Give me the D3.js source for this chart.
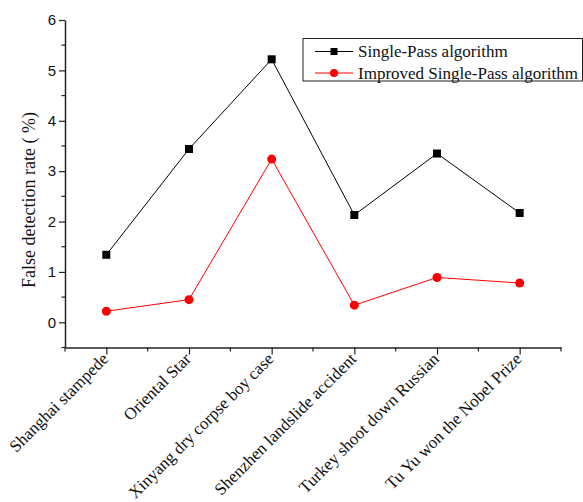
<!DOCTYPE html>
<html><head><meta charset="utf-8">
<script src="https://cdn.jsdelivr.net/npm/d3@7"></script>
<style>body{margin:0;background:#fff}</style>
</head><body>
<script>
const categories = ["Shanghai stampede","Oriental Star","Xinyang dry corpse boy case","Shenzhen landslide accident","Turkey shoot down Russian","Tu Yu won the Nobel Prize"];
const singlePass = [1.34, 3.44, 5.22, 2.13, 3.35, 2.17];
const improved = [0.22, 0.45, 3.24, 0.34, 0.89, 0.78];
const yTicks = [0,1,2,3,4,5,6];
const seriesNames = ["Single-Pass algorithm","Improved Single-Pass algorithm"];

const W=583,H=502;
const svg=d3.select("body").append("svg").attr("width",W).attr("height",H);
const x=d3.scaleLinear().domain([0.5,6.5]).range([65,561]);
const y=d3.scaleLinear().domain([-0.5,6]).range([347.5,20]);
const serif="Liberation Serif, Times New Roman, Noto Sans CJK SC, serif";

// y axis
const yAx=d3.axisLeft(y).tickValues(yTicks).tickSize(6).tickSizeOuter(0).tickFormat(d3.format("d"));
const gy=svg.append("g").attr("transform","translate(65,0)").call(yAx);
gy.select(".domain").attr("stroke","#222").attr("stroke-width",1.5);
gy.selectAll(".tick line").attr("stroke","#222").attr("stroke-width",1.2);
gy.selectAll(".tick text").attr("font-family","Liberation Sans, Arial, sans-serif").attr("font-size",15).attr("fill","#111").attr("x",-9);
const yMinor=d3.range(-0.5,6,1);
svg.append("g").selectAll("line").data(yMinor).join("line")
  .attr("x1",65).attr("x2",61.5).attr("y1",d=>y(d)).attr("y2",d=>y(d)).attr("stroke","#222").attr("stroke-width",1.2);

// x axis
const xAx=d3.axisBottom(x).tickValues(d3.range(1,7)).tickSize(7).tickSizeOuter(0).tickFormat(()=> "");
const gx=svg.append("g").attr("transform","translate(0,347.5)").call(xAx);
gx.select(".domain").attr("stroke","#222").attr("stroke-width",1.5);
gx.selectAll(".tick line").attr("stroke","#222").attr("stroke-width",1.2);
svg.append("g").selectAll("line").data(d3.range(0.5,7,1)).join("line")
  .attr("x1",d=>x(d)).attr("x2",d=>x(d)).attr("y1",347.5).attr("y2",351.5).attr("stroke","#222").attr("stroke-width",1.2);
svg.append("g").selectAll("text").data(categories).join("text")
  .attr("transform",(d,i)=>`translate(${x(i+1)+3},${360}) rotate(-45)`)
  .attr("text-anchor","end").attr("font-family",serif).attr("font-size",17).attr("fill","#111")
  .text(d=>d);

// y label
svg.append("text").attr("transform",`translate(35,200) rotate(-90)`).attr("text-anchor","middle")
  .attr("font-family",serif).attr("font-size",18).attr("fill","#111")
  .text("False detection rate ( %)");

const line=d3.line().x((d,i)=>x(i+1)).y(d=>y(d));
svg.append("path").datum(singlePass).attr("d",line).attr("fill","none").attr("stroke","#000").attr("stroke-width",1);
svg.append("path").datum(improved).attr("d",line).attr("fill","none").attr("stroke","#ff0000").attr("stroke-width",1);
svg.append("g").selectAll("rect").data(singlePass).join("rect")
  .attr("x",(d,i)=>x(i+1)-4).attr("y",d=>y(d)-4).attr("width",8).attr("height",8).attr("fill","#000");
svg.append("g").selectAll("circle").data(improved).join("circle")
  .attr("cx",(d,i)=>x(i+1)).attr("cy",d=>y(d)).attr("r",4.5).attr("fill","#ff0000");

// legend
const lg=svg.append("g");
lg.append("rect").attr("x",303).attr("y",38.5).attr("width",279.5).attr("height",42.5).attr("fill","#fff").attr("stroke","#222").attr("stroke-width",1);
const colors=["#000","#ff0000"];
seriesNames.forEach((n,i)=>{
  const yy=51.5+i*21.5;
  lg.append("line").attr("x1",315).attr("x2",353).attr("y1",yy).attr("y2",yy).attr("stroke",colors[i]).attr("stroke-width",1);
  if(i===0) lg.append("rect").attr("x",330.5).attr("y",yy-3.5).attr("width",7).attr("height",7).attr("fill","#000");
  else lg.append("circle").attr("cx",334).attr("cy",yy).attr("r",4).attr("fill","#ff0000");
  lg.append("text").attr("x",358).attr("y",yy+5.5).attr("font-family",serif).attr("font-size",17).attr("fill","#111").text(n);
});
</script>
</body></html>
